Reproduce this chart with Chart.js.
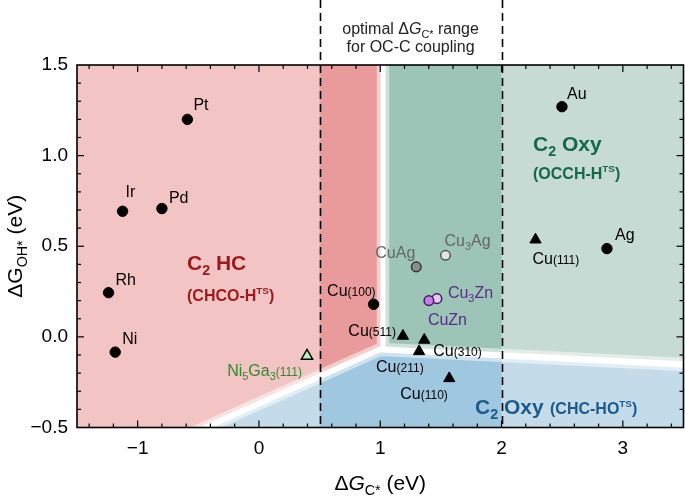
<!DOCTYPE html>
<html><head><meta charset="utf-8">
<script src="https://cdn.jsdelivr.net/npm/chart.js@4.4.0/dist/chart.umd.min.js"></script>
<style>html,body{margin:0;padding:0;background:#fff}#wrap{width:685px;height:500px}</style>
</head><body><div id="wrap"><canvas id="c" width="685" height="500"></canvas></div>
<script>
// ---------- data ----------
const metalNames = ['Pt','Ir','Pd','Rh','Ni','Au','Ag','Cu(100)'];
const metalX = [-0.59,-1.124,-0.80,-1.24,-1.185,2.498,2.869,0.945];
const metalY = [1.20,0.693,0.708,0.244,-0.084,1.27,0.487,0.18];

const facetNames = ['Cu(111)','Cu(511)','Cu(310)','Cu(211)','Cu(110)'];
const facetX = [2.28,1.187,1.363,1.32,1.569];
const facetY = [0.536,0.005,-0.017,-0.08,-0.229];

const ni5ga3Name = ['Ni5Ga3(111)'];
const ni5ga3X = [0.396];
const ni5ga3Y = [-0.105];

const cuAgName = ['CuAg'];   const cuAgX = [1.297];  const cuAgY = [0.386];
const cu3AgName = ['Cu3Ag']; const cu3AgX = [1.538]; const cu3AgY = [0.45];
const cuZnName = ['CuZn'];   const cuZnX = [1.401];  const cuZnY = [0.20];
const cu3ZnName = ['Cu3Zn']; const cu3ZnX = [1.467]; const cu3ZnY = [0.211];

const xTickValues = [-1,0,1,2,3];
const xTickLabels = ['\u22121','0','1','2','3'];
const yTickValues = [-0.5,0,0.5,1,1.5];
const yTickLabels = ['\u22120.5','0.0','0.5','1.0','1.5'];
const xMin = -1.5, xMax = 3.5, yMin = -0.5, yMax = 1.5;
const optimalRange = [0.5, 2.0];

// region boundaries (data coordinates)
const hcRegionX = [-2, 1.0, 1.0, -1.167, -2];
const hcRegionY = [2, 2, -0.05, -0.7, -0.7];
const occhRegionX = [1.045, 4, 4, 1.045];
const occhRegionY = [2, 2, -0.151, -0.053];
const chcRegionX = [-1.047, 1.0, 4, 4];
const chcRegionY = [-0.7, -0.086, -0.187, -0.7];

// ---------- styling / drawing ----------
const FONT = '"Liberation Sans", Arial, Helvetica, sans-serif';

function fontFor(k,size,weight){
  weight = weight||'normal';
  if(k==='s') return weight+' '+(size*0.68)+'px '+FONT;
  if(k==='m') return weight+' '+(size*0.75)+'px '+FONT;
  if(k==='p') return weight+' '+(size*0.62)+'px '+FONT;
  if(k==='i') return 'italic '+weight+' '+size+'px '+FONT;
  return weight+' '+size+'px '+FONT;
}
function richWidth(ctx, parts, size, weight){
  let w=0;
  for(const [t,k] of parts){ ctx.font = fontFor(k,size,weight); w += ctx.measureText(t).width; }
  return w;
}
function drawRich(ctx, parts, x, y, align, color, size, weight){
  const w = richWidth(ctx, parts, size, weight);
  let cx = align==='right' ? x-w : align==='center' ? x-w/2 : x;
  ctx.fillStyle = color; ctx.textBaseline='alphabetic'; ctx.textAlign='left';
  for(const [t,k] of parts){
    ctx.font = fontFor(k,size,weight);
    let dy = 0;
    if(k==='s') dy = size*0.25;
    if(k==='p') dy = -size*0.42;
    ctx.fillText(t, cx, y+dy);
    cx += ctx.measureText(t).width;
  }
}

const labelSpec = {
  'Pt':[[['Pt','n']],6,-9,'left','#000'],
  'Ir':[[['Ir','n']],3,-14,'left','#000'],
  'Pd':[[['Pd','n']],7,-6,'left','#000'],
  'Rh':[[['Rh','n']],7,-8,'left','#000'],
  'Ni':[[['Ni','n']],7,-8,'left','#000'],
  'Au':[[['Au','n']],5,-8,'left','#000'],
  'Ag':[[['Ag','n']],8,-9,'left','#000'],
  'Cu(100)':[[['Cu','n'],['(100)','m']],2,-8,'right','#000'],
  'Cu(111)':[[['Cu','n'],['(111)','m']],-3,24,'left','#000'],
  'Cu(511)':[[['Cu','n'],['(511)','m']],-7,0,'right','#000'],
  'Cu(310)':[[['Cu','n'],['(310)','m']],9,16,'left','#000'],
  'Cu(211)':[[['Cu','n'],['(211)','m']],-43,21,'left','#000'],
  'Cu(110)':[[['Cu','n'],['(110)','m']],-49,21,'left','#000'],
  'CuAg':[[['CuAg','n']],-1,-9,'right','#666'],
  'Cu3Ag':[[['Cu','n'],['3','s'],['Ag','n']],-1,-9,'left','#666'],
  'Cu3Zn':[[['Cu','n'],['3','s'],['Zn','n']],11,-1,'left','#5a2a8c'],
  'CuZn':[[['CuZn','n']],-1,24,'left','#5a2a8c'],
  'Ni5Ga3(111)':[[['Ni','n'],['5','s'],['Ga','n'],['3','s'],['(111)','m']],-5,20,'right','#2f8a2a']
};

function polyPath(ctx, xs, ys, X, Y){
  ctx.beginPath();
  X.forEach((v,i)=>{const px=xs.getPixelForValue(v), py=ys.getPixelForValue(Y[i]); i?ctx.lineTo(px,py):ctx.moveTo(px,py);});
  ctx.closePath();
}

const regions = [
  [hcRegionX, hcRegionY, '#f3c4c4', '#e99b9b'],
  [occhRegionX, occhRegionY, '#c5dbd3', '#9dc5b7'],
  [chcRegionX, chcRegionY, '#c4dcea', '#9fc7df']
];

const bgPlugin = {
  id:'bg',
  beforeDatasetsDraw(chart){
    const ctx=chart.ctx, a=chart.chartArea, xs=chart.scales.x, ys=chart.scales.y;
    ctx.save();
    ctx.beginPath(); ctx.rect(a.left,a.top,a.right-a.left,a.bottom-a.top); ctx.clip();
    const b0=xs.getPixelForValue(optimalRange[0]), b1=xs.getPixelForValue(optimalRange[1]);
    for(const [X,Y,light,dark] of regions){
      polyPath(ctx,xs,ys,X,Y); ctx.fillStyle=light; ctx.fill();
      ctx.save(); ctx.beginPath(); ctx.rect(b0,a.top,b1-b0,a.bottom-a.top); ctx.clip();
      polyPath(ctx,xs,ys,X,Y); ctx.fillStyle=dark; ctx.fill(); ctx.restore();
    }
    for(const [X,Y] of regions){
      polyPath(ctx,xs,ys,X,Y); ctx.strokeStyle='rgba(255,255,255,0.5)'; ctx.lineWidth=7; ctx.lineJoin='round'; ctx.stroke();
    }
    ctx.restore();
    // dashed lines
    ctx.save();
    ctx.strokeStyle='#000'; ctx.lineWidth=1.6; ctx.setLineDash([8,5]);
    for(const v of optimalRange){
      const px=Math.round(xs.getPixelForValue(v))+0.5;
      ctx.beginPath(); ctx.moveTo(px,0); ctx.lineTo(px,a.bottom); ctx.stroke();
    }
    ctx.restore();
    // box + ticks
    ctx.save();
    ctx.strokeStyle='#000'; ctx.lineWidth=1.2;
    const tick=(x1,y1,x2,y2)=>{ctx.beginPath();ctx.moveTo(x1,y1);ctx.lineTo(x2,y2);ctx.stroke();};
    for(let i=-14;i<=34;i+=2){
      const v=i/10, px=xs.getPixelForValue(v), major=(i%10===0), L=major?7:4;
      tick(px,a.bottom,px,a.bottom-L); tick(px,a.top,px,a.top+L);
    }
    for(let i=-4;i<=14;i++){
      const v=i/10, py=ys.getPixelForValue(v), major=(i%5===0), L=major?7:4;
      tick(a.left,py,a.left+L,py); tick(a.right,py,a.right-L,py);
    }
    ctx.lineWidth=1.6;
    ctx.strokeRect(a.left,a.top,a.right-a.left,a.bottom-a.top);
    ctx.restore();
  },
  afterDatasetsDraw(chart){
    const ctx=chart.ctx, a=chart.chartArea, xs=chart.scales.x, ys=chart.scales.y;
    ctx.save();
    // point labels
    chart.data.datasets.forEach(ds=>{
      ds.data.forEach(p=>{
        const s=labelSpec[p.name]; if(!s) return;
        const px=xs.getPixelForValue(p.x), py=ys.getPixelForValue(p.y);
        drawRich(ctx,s[0],px+s[1],py+s[2],s[3],s[4],16,'normal');
      });
    });
    // region labels
    drawRich(ctx,[['C','n'],['2','s'],[' HC','n']],187,270,'left','#9c1a1e',21,'bold');
    drawRich(ctx,[['(CHCO-H','n'],['TS','p'],[')','n']],187,301,'left','#9c1a1e',16,'bold');
    drawRich(ctx,[['C','n'],['2','s'],[' Oxy','n']],533,151,'left','#13694a',21,'bold');
    drawRich(ctx,[['(OCCH-H','n'],['TS','p'],[')','n']],533,179,'left','#13694a',16,'bold');
    drawRich(ctx,[['C','n'],['2','s'],[' Oxy','n']],475,414,'left','#1b5b8c',21,'bold');
    drawRich(ctx,[['(CHC-HO','n'],['TS','p'],[')','n']],550,414,'left','#1b5b8c',16,'bold');
    // top annotation
    const cxm=(xs.getPixelForValue(optimalRange[0])+xs.getPixelForValue(optimalRange[1]))/2;
    drawRich(ctx,[['optimal \u0394','n'],['G','i'],['C*','s'],[' range','n']],cxm,34,'center','#222',16,'normal');
    drawRich(ctx,[['for OC-C coupling','n']],cxm,52,'center','#222',16,'normal');
    // axis titles
    drawRich(ctx,[['\u0394','n'],['G','i'],['C*','s'],[' (eV)','n']],(a.left+a.right)/2,490,'center','#000',21,'normal');
    ctx.translate(22,(a.top+a.bottom)/2);
    ctx.rotate(-Math.PI/2);
    drawRich(ctx,[['\u0394G','n'],['OH*','s'],[' (eV)','n']],0,0,'center','#000',21,'normal');
    ctx.restore();
  }
};

const mk = (names,X,Y)=>names.map((n,i)=>({x:X[i],y:Y[i],name:n}));

new Chart(document.getElementById('c'),{
  type:'scatter',
  data:{datasets:[
    {data:mk(metalNames,metalX,metalY),pointStyle:'circle',pointRadius:5.2,backgroundColor:'#000',borderColor:'#000',borderWidth:1},
    {data:mk(facetNames,facetX,facetY),pointStyle:'triangle',pointRadius:6.5,backgroundColor:'#000',borderColor:'#000',borderWidth:1},
    {data:mk(ni5ga3Name,ni5ga3X,ni5ga3Y),pointStyle:'triangle',pointRadius:6.5,backgroundColor:'#b6f2ad',borderColor:'#000',borderWidth:1.5},
    {data:mk(cuAgName,cuAgX,cuAgY),pointStyle:'circle',pointRadius:4.8,backgroundColor:'#8c8c8c',borderColor:'#333',borderWidth:1.5},
    {data:mk(cu3AgName,cu3AgX,cu3AgY),pointStyle:'circle',pointRadius:4.8,backgroundColor:'#e2e2e2',borderColor:'#555',borderWidth:1.5},
    {data:mk(cuZnName,cuZnX,cuZnY),pointStyle:'circle',pointRadius:4.8,backgroundColor:'#c47ee6',borderColor:'#3b1a5c',borderWidth:1.5},
    {data:mk(cu3ZnName,cu3ZnX,cu3ZnY),pointStyle:'circle',pointRadius:4.8,backgroundColor:'#e8c6f6',borderColor:'#3b1a5c',borderWidth:1.5}
  ]},
  options:{
    responsive:false, animation:false, devicePixelRatio:1,
    layout:{autoPadding:false,padding:{top:65,right:1.5,left:0,bottom:0}},
    plugins:{legend:{display:false},tooltip:{enabled:false}},
    scales:{
      x:{type:'linear',min:xMin,max:xMax,
        afterBuildTicks:s=>{s.ticks=xTickValues.map(v=>({value:v}));},
        afterFit:s=>{s.height=72.5; s.paddingLeft=0; s.paddingRight=0;},
        grid:{display:false,drawTicks:false},border:{display:false},
        ticks:{padding:10,color:'#000',font:{family:FONT,size:19},callback:(v)=>xTickLabels[xTickValues.indexOf(v)] ?? ''}},
      y:{type:'linear',min:yMin,max:yMax,
        afterBuildTicks:s=>{s.ticks=yTickValues.map(v=>({value:v}));},
        afterFit:s=>{s.width=77; s.paddingTop=0; s.paddingBottom=0;},
        grid:{display:false,drawTicks:false},border:{display:false},
        ticks:{padding:9,color:'#000',font:{family:FONT,size:19},callback:(v)=>yTickLabels[yTickValues.indexOf(v)] ?? ''}}
    }
  },
  plugins:[bgPlugin]
});
</script></body></html>
